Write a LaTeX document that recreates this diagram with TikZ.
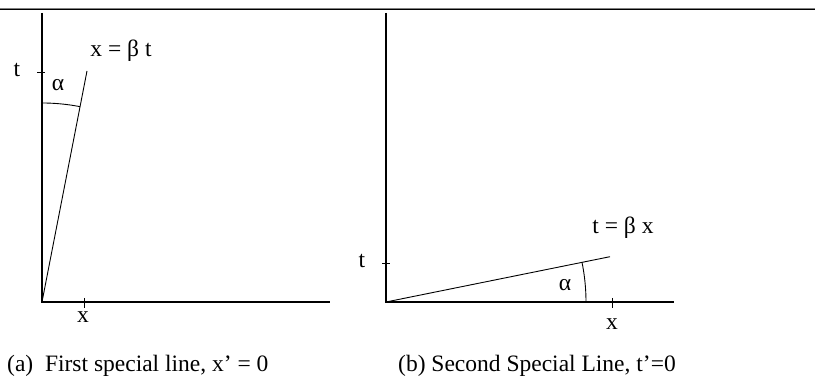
\documentclass[tikz,border=0pt]{standalone}
\usepackage{fontspec}
\setmainfont{Liberation Serif}
\begin{document}
\begin{tikzpicture}[x=1pt,y=1pt,
  axis/.style={line width=1.2pt,black},
  tickln/.style={line width=0.9pt,black},
  ray/.style={line width=0.9pt,black},
  lbl/.style={inner sep=0pt,font=\fontsize{23.5}{28}\selectfont},
  captxt/.style={inner sep=0pt,anchor=west,font=\fontsize{23.5}{28}\selectfont}]
\useasboundingbox (0,0) rectangle (815,379);
% top rule
\draw[line width=1pt,gray] (0,370.5) -- (815,370.5);
\draw[line width=1.3pt,black] (0,369.3) -- (815,369.3);

% ---------- panel (a)
\coordinate (Oa) at (42,77);
\coordinate (Ta) at (42,366);
\coordinate (Xa) at (330,77);
\coordinate (La) at (87,308);
\draw[axis] (Ta) -- (Oa) -- (Xa);
\coordinate (ta1) at (37,307); \coordinate (ta2) at (45,307);
\draw[tickln] (ta1) -- (ta2);
\coordinate (xa1) at (84,81); \coordinate (xa2) at (84,71);
\draw[tickln] (xa1) -- (xa2);
\draw[ray] (Oa) -- (La);
\coordinate (aa) at (42,276);
\draw[ray] (aa) arc[start angle=90,end angle=79,radius=199pt];
\node[lbl] (tla) at (17,309) {t};
\node[lbl] (xla) at (83,62) {x};
\node[lbl] (ala) at (58,294) {α};
\node[lbl] (eqa) at (121,328) {x = β t};
\node[captxt] (capa) at (7,13) {(a)\ \ First special line, x’ = 0};

% ---------- panel (b)
\coordinate (Ob) at (386,77);
\coordinate (Tb) at (386,366);
\coordinate (Xb) at (674,77);
\coordinate (Lb) at (610,122.3);
\draw[axis] (Tb) -- (Ob) -- (Xb);
\coordinate (tb1) at (382,116); \coordinate (tb2) at (390,116);
\draw[tickln] (tb1) -- (tb2);
\coordinate (xb1) at (612,81); \coordinate (xb2) at (612,71);
\draw[tickln] (xb1) -- (xb2);
\draw[ray] (Ob) -- (Lb);
\coordinate (ab) at (586,77);
\draw[ray] (ab) arc[start angle=0,end angle=11.4,radius=200pt];
\node[lbl] (tlb) at (362,118) {t};
\node[lbl] (xlb) at (612,55) {x};
\node[lbl] (alb) at (565,94) {α};
\node[lbl] (eqb) at (623,151) {t = β x};
\node[captxt] (capb) at (398,13) {(b) Second Special Line, t’=0};
\end{tikzpicture}
\end{document}
